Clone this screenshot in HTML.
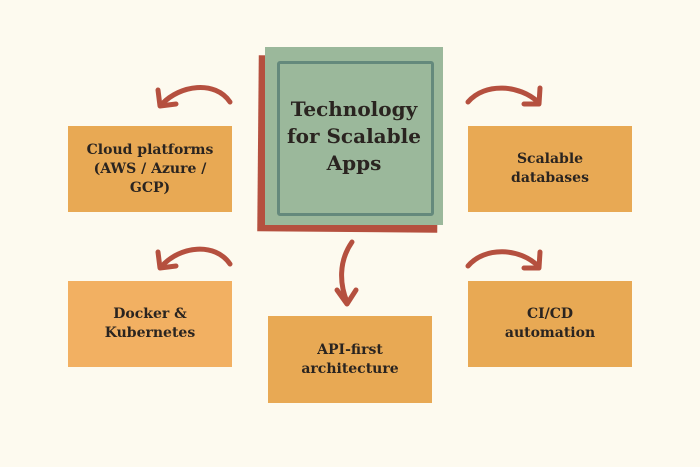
<!DOCTYPE html>
<html><head><style>
body{margin:0;width:700px;height:467px;background:#fdfaef;position:relative;overflow:hidden;font-family:"DejaVu Serif","Liberation Serif",serif;font-weight:bold;color:#2a2420}
.b{position:absolute;display:flex;align-items:center;justify-content:center;text-align:center;font-size:14px;line-height:19px;background:#e8a954}
.t{position:absolute;display:flex;align-items:center;justify-content:center;text-align:center;font-size:20px;line-height:27px}
svg{position:absolute;left:0;top:0}
</style></head><body>
<div style="position:absolute;left:258px;top:56px;width:180px;height:176px;background:#b5503f;transform:rotate(0.5deg)"></div>
<div style="position:absolute;left:265px;top:47px;width:178px;height:178px;background:#9bb89b"></div>
<div style="position:absolute;left:277px;top:61px;width:151px;height:149px;border:3px solid #64897c;border-radius:3px"></div>
<div class="t" style="left:265px;top:47px;width:178px;height:178px">Technology<br>for Scalable<br>Apps</div>
<div class="b" style="left:68px;top:126px;width:164px;height:86px">Cloud platforms<br>(AWS / Azure /<br>GCP)</div>
<div class="b" style="left:468px;top:126px;width:164px;height:86px">Scalable<br>databases</div>
<div class="b" style="left:68px;top:281px;width:164px;height:86px;background:#f2b062">Docker &amp;<br>Kubernetes</div>
<div class="b" style="left:268px;top:316px;width:164px;height:87px">API-first<br>architecture</div>
<div class="b" style="left:468px;top:281px;width:164px;height:86px">CI/CD<br>automation</div>
<svg width="700" height="467" fill="none" stroke="#b5503f" stroke-width="5" stroke-linecap="round" stroke-linejoin="round">
<path d="M230 102 C215 80 180 85 162 104"/><path d="M158 90 L160 106 L176 104"/>
<path d="M468 102 C485 82 520 85 538 102"/><path d="M540 88 L539 104 L524 104"/>
<path d="M230 264 C215 242 180 246 162 266"/><path d="M158 252 L160 268 L176 266"/>
<path d="M468 266 C485 246 520 248 538 266"/><path d="M540 252 L539 268 L524 268"/>
<path d="M352 242 C338 262 340 285 347 302"/><path d="M337 290 L347 304 L356 290"/>
</svg>
</body></html>
